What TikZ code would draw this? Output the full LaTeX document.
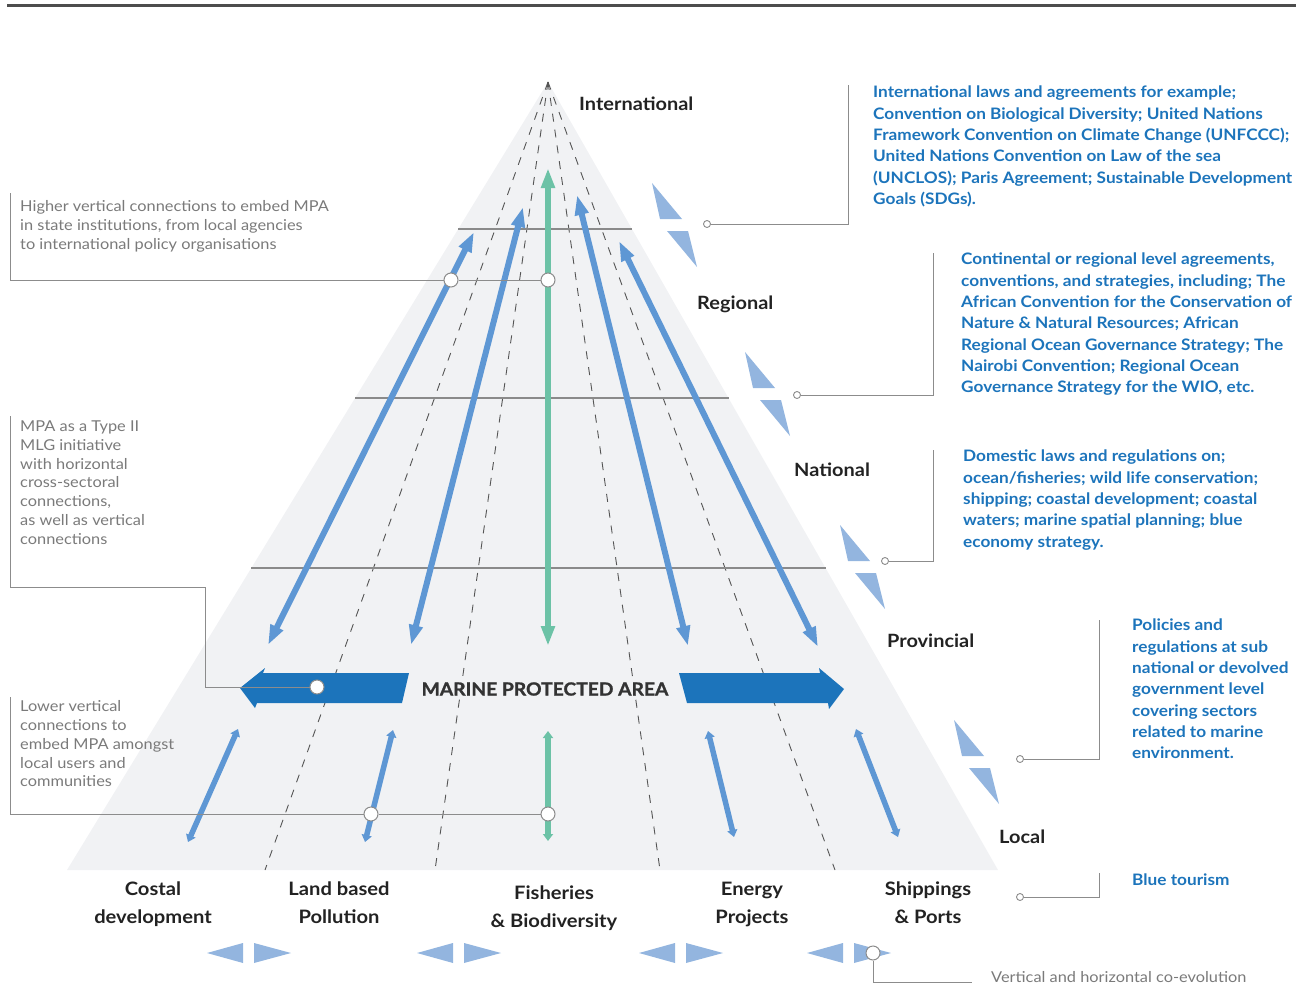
\documentclass[tikz,border=0pt]{standalone}
\usepackage{fontspec}
\setmainfont{Lato}[FakeStretch=1.09]
\newfontfamily\mpafont{Lato}[FakeStretch=1.07, FakeBold=1.3]
\usetikzlibrary{arrows.meta}

\definecolor{pyrfill}{RGB}{241,242,244}
\definecolor{levelline}{RGB}{138,138,138}
\definecolor{dashgray}{RGB}{85,85,85}
\definecolor{linkblue}{RGB}{94,151,212}
\definecolor{linkgreen}{RGB}{108,194,166}
\definecolor{mpablue}{RGB}{28,116,187}
\definecolor{paleblue}{RGB}{147,181,223}
\definecolor{notegray}{RGB}{122,122,122}
\definecolor{conngray}{RGB}{140,140,140}
\definecolor{labelblack}{RGB}{34,34,34}
\definecolor{rulegray}{RGB}{77,77,77}
\definecolor{mpatext}{RGB}{51,51,51}

\tikzset{
  longlink/.style={line width=6pt, {Triangle[length=20pt,width=13pt]}-{Triangle[length=20pt,width=13pt]}},
  shortlink/.style={line width=5.5pt, {Triangle[length=7pt,width=10pt]}-{Triangle[length=7pt,width=10pt]}},
  levelrule/.style={draw=levelline, line width=1.1pt},
  ray/.style={draw=dashgray, line width=0.9pt, dash pattern=on 8pt off 8pt},
  conn/.style={draw=conngray, line width=1pt},
  bigdot/.style={circle, draw=conngray, fill=white, line width=1pt, minimum size=14pt, inner sep=0pt},
  smalldot/.style={circle, draw=conngray, fill=white, line width=0.9pt, minimum size=7pt, inner sep=0pt},
  levellabel/.style={anchor=base west, inner sep=0pt, text=labelblack, font=\fontsize{18.3}{21}\selectfont\bfseries},
  sector/.style={anchor=north, align=center, inner sep=0pt, text=labelblack, font=\fontsize{18.5}{28}\selectfont\bfseries},
  bluenote/.style={anchor=north west, align=left, inner sep=0pt, text=mpablue, font=\fontsize{15.8}{21.3}\selectfont\bfseries},
  graynote/.style={anchor=north west, align=left, inner sep=0pt, text=notegray, font=\fontsize{15}{18.8}\selectfont},
  flash/.style={fill=paleblue},
}

\begin{document}
\begin{tikzpicture}[x=1pt,y=-1pt]
\useasboundingbox (0,0) rectangle (1301,1006);

% top rule
\draw[line width=3pt, rulegray] (7,6) -- (1296,6);

% pyramid body
\coordinate (apex) at (548,82);
\coordinate (baseL) at (67,870);
\coordinate (baseR) at (998,870);
\fill[pyrfill] (apex) -- (baseR) -- (baseL) -- cycle;

% sector rays
\coordinate (r1) at (265,870);
\coordinate (r2) at (435,870);
\coordinate (r3) at (660,870);
\coordinate (r4) at (835,870);
\foreach \r in {r1,r2,r3,r4} \draw[ray] (apex) -- (\r);

% level separators
\draw[levelrule] (458.3,229) -- (631.9,229);
\draw[levelrule] (355.1,398) -- (728.5,398);
\draw[levelrule] (251.3,568) -- (825.5,568);

% upper (vertical) links
\draw[longlink, linkblue] (268,645) -- (474,232);
\draw[longlink, linkblue] (411,645) -- (523,207);
\draw[longlink, linkgreen] (548,646) -- (548,168);
\draw[longlink, linkblue] (688,646) -- (577,195);
\draw[longlink, linkblue] (818,647) -- (619,241);

% lower (local) links
\draw[shortlink, linkblue] (188,842) -- (238,729);
\draw[shortlink, linkblue] (365,842) -- (393,730);
\draw[shortlink, linkgreen] (548,841) -- (548,731);
\draw[shortlink, linkblue] (708,731) -- (734,837);
\draw[shortlink, linkblue] (856,729) -- (898,837);

% horizontal MPA arrows
\fill[mpablue] (240,688) -- (265,668) -- (263,673) -- (409,673) -- (402,703)
  -- (257,703) -- (255,708) -- cycle;
\fill[mpablue] (679,673) -- (820,673) -- (819,668) -- (844,689) -- (829,709)
  -- (828,703) -- (687,703) -- cycle;
\node[text=mpatext, font=\mpafont\fontsize{18}{20}\selectfont\bfseries] (mpa) at (545,689) {MARINE PROTECTED AREA};

% level names
\node[levellabel] (lvInt) at (579,111) {International};
\node[levellabel] (lvReg) at (697,309) {Regional};
\node[levellabel] (lvNat) at (794,476) {National};
\node[levellabel] (lvPro) at (887,647) {Provincial};
\node[levellabel] (lvLoc) at (999,843) {Local};

% sectors
\node[sector] (sc1) at (153,882) {Costal\\development};
\node[sector] (sc2) at (339,882) {Land based\\Pollution};
\node[sector] (sc3) at (554,886) {Fisheries\\\& Biodiversity};
\node[sector] (sc4) at (752,882) {Energy\\Projects};
\node[sector] (sc5) at (928,882) {Shippings\\\& Ports};

% co-evolution marks
\foreach \dx in {0,210,432,600} {
  \fill[flash] (207+\dx,953) -- (243+\dx,943) -- (243+\dx,963) -- cycle;
  \fill[flash] (291+\dx,953) -- (254+\dx,943) -- (254+\dx,963) -- cycle;
}

% level shift marks
\foreach \dx/\dy in {0/0, 93/169, 188/342, 302/537} {
  \fill[flash] (652+\dx,183+\dy) -- (660+\dx,219+\dy) -- (682+\dx,219+\dy) -- cycle;
  \fill[flash] (667+\dx,231+\dy) -- (688+\dx,231+\dy) -- (697+\dx,267+\dy) -- cycle;
}

% right-hand notes
\node[bluenote] (nInt) at (873,86) {International laws and agreements for example;\\
Convention on Biological Diversity; United Nations\\
Framework Convention on Climate Change (UNFCCC);\\
United Nations Convention on Law of the sea\\
(UNCLOS); Paris Agreement; Sustainable Development\\
Goals (SDGs).};
\node[bluenote] (nReg) at (961,253) {Continental or regional level agreements,\\
conventions, and strategies, including; The\\
African Convention for the Conservation of\\
Nature \& Natural Resources; African\\
Regional Ocean Governance Strategy; The\\
Nairobi Convention; Regional Ocean\\
Governance Strategy for the WIO, etc.};
\node[bluenote] (nNat) at (963,450) {Domestic laws and regulations on;\\
ocean/fisheries; wild life conservation;\\
shipping; coastal development; coastal\\
waters; marine spatial planning; blue\\
economy strategy.};
\node[bluenote] (nPro) at (1132,619) {Policies and\\
regulations at sub\\
national or devolved\\
government level\\
covering sectors\\
related to marine\\
environment.};
\node[bluenote] (nLoc) at (1132,874) {Blue tourism};

% right-hand connectors
\coordinate (tInt) at (848,85);
\coordinate (tReg) at (933,253);
\coordinate (tNat) at (933,450);
\coordinate (tPro) at (1099,620);
\coordinate (tLoc) at (1099,873);
\node[smalldot] (dInt) at (707,224) {};
\node[smalldot] (dReg) at (797,395) {};
\node[smalldot] (dNat) at (885,561) {};
\node[smalldot] (dPro) at (1020,759) {};
\node[smalldot] (dLoc) at (1020,897) {};
\draw[conn] (dInt) -| (tInt);
\draw[conn] (dReg) -| (tReg);
\draw[conn] (dNat) -| (tNat);
\draw[conn] (dPro) -| (tPro);
\draw[conn] (dLoc) -| (tLoc);

% left-hand notes
\node[graynote] (gHi) at (20,200.5) {Higher vertical connections to embed MPA\\
in state institutions, from local agencies\\
to international policy organisations};
\node[graynote] (gMid) at (20,420.5) {MPA as a Type II\\
MLG initiative\\
with horizontal\\
cross-sectoral\\
connections,\\
as well as vertical\\
connections};
\node[graynote] (gLo) at (20,700.5) {Lower vertical\\
connections to\\
embed MPA amongst\\
local users and\\
communities};

% left-hand connectors
\coordinate (kHi) at (10,193);
\coordinate (kMid) at (10,416);
\coordinate (kMidA) at (10,587);
\coordinate (kMidB) at (205,587);
\coordinate (kLo) at (10,697);
\node[bigdot] (cHiA) at (451,280) {};
\node[bigdot] (cHiB) at (548,280) {};
\node[bigdot] (cMid) at (317,687) {};
\node[bigdot] (cLoA) at (371,814) {};
\node[bigdot] (cLoB) at (548,814) {};
\draw[conn] (kHi) |- (cHiA);
\draw[conn] (cHiA) -- (cHiB);
\draw[conn] (kMid) -- (kMidA) -- (kMidB) |- (cMid);
\draw[conn] (kLo) |- (cLoA);
\draw[conn] (cLoA) -- (cLoB);

% co-evolution note
\node[bigdot] (cEvo) at (873,953) {};
\coordinate (kEvo) at (972,982);
\draw[conn] (cEvo) |- (kEvo);
\node[anchor=west, inner sep=0pt, text=notegray, font=\fontsize{15}{18}\selectfont] (gEvo) at (991,977) {Vertical and horizontal co-evolution};

\end{tikzpicture}
\end{document}
